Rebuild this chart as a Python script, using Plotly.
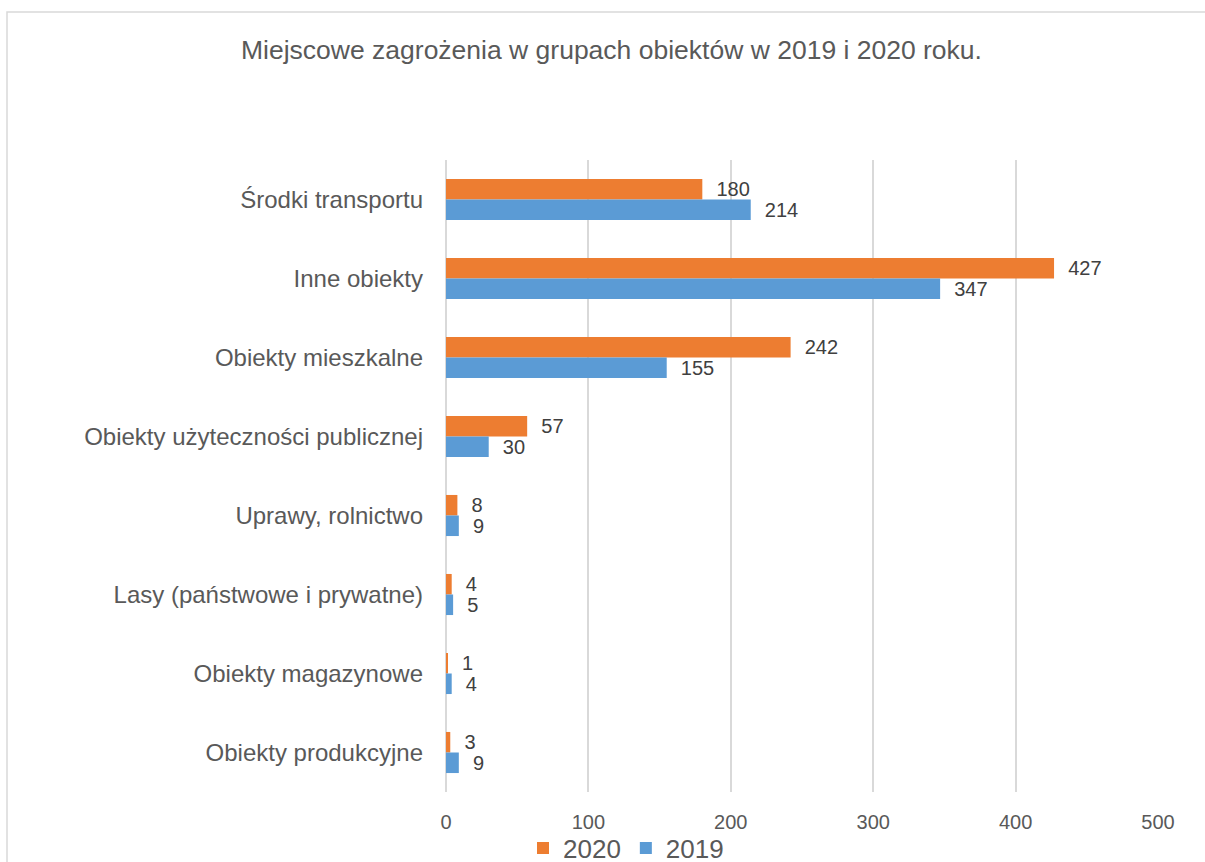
import plotly.graph_objects as go

categories = ["Środki transportu", "Inne obiekty", "Obiekty mieszkalne",
              "Obiekty użyteczności publicznej", "Uprawy, rolnictwo",
              "Lasy (państwowe i prywatne)", "Obiekty magazynowe",
              "Obiekty produkcyjne"]
values_2020 = [180, 427, 242, 57, 8, 4, 1, 3]
values_2019 = [214, 347, 155, 30, 9, 5, 4, 9]
x_ticks = [0, 100, 200, 300, 400, 500]

FONT = "Liberation Sans, Arial, sans-serif"
TXT = "#595959"

fig = go.Figure()
for name, vals, color in [("2020", values_2020, "#ED7D31"),
                          ("2019", values_2019, "#5B9BD5")]:
    fig.add_trace(go.Bar(
        y=categories, x=vals, name=name, orientation="h",
        marker=dict(color=color, line=dict(width=0)),
        text=vals, texttemplate="  %{x}", textposition="outside",
        constraintext="none", cliponaxis=False,
        textfont=dict(size=20, color="#404040", family=FONT),
    ))

fig.update_layout(
    width=1205, height=862,
    margin=dict(l=446, r=47, t=160, b=70, autoexpand=False),
    paper_bgcolor="white", plot_bgcolor="white",
    barmode="group", bargap=0.48, bargroupgap=0,
    font=dict(family=FONT, color=TXT),
    title=dict(text="Miejscowe zagrożenia w grupach obiektów w 2019 i 2020 roku.",
               x=611.5 / 1205, xanchor="center", xref="container",
               y=1 - 50 / 862, yanchor="middle",
               font=dict(size=26.5, color=TXT, family=FONT)),
    legend=dict(orientation="h", xanchor="center", x=(626 - 446) / 712,
                yanchor="middle", y=(792 - 848) / 632,
                bgcolor="rgba(0,0,0,0)",
                font=dict(size=26, color=TXT, family=FONT),
                traceorder="normal"),
    xaxis=dict(range=[0, 500], tickvals=x_ticks, showgrid=True,
               gridcolor="#D9D9D9", gridwidth=1.5, zeroline=True,
               zerolinecolor="#D9D9D9", zerolinewidth=1.5, showline=False,
               ticks="outside", ticklen=12, tickcolor="rgba(0,0,0,0)",
               tickfont=dict(size=20, color=TXT)),
    yaxis=dict(autorange="reversed", showgrid=False, showline=False,
               ticklabelstandoff=22, tickfont=dict(size=24, color=TXT)),
    shapes=[dict(type="rect", xref="paper", yref="paper",
                 x0=(7 - 446) / 712, x1=(1230 - 446) / 712,
                 y0=(792 - 890) / 632, y1=(792 - 12) / 632,
                 line=dict(color="#D9D9D9", width=1.5), layer="below")],
)

fig.write_html("out.html", config={"displayModeBar": False},
               post_script="document.body.style.margin='0';")
